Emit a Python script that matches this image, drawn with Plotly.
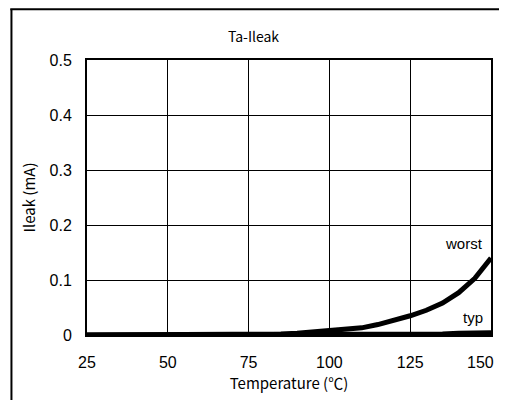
import plotly.graph_objects as go

# temperature samples (deg C)
temp = [25, 30, 35, 40, 45, 50, 55, 60, 65, 70, 75, 80, 85, 90, 95, 100,
        105, 110, 115, 120, 125, 130, 135, 140, 145, 150]
# leakage current (mA)
worst = [0, 0, 0, 0, 0, 0, 0, 0, 0, 0, 0.001, 0.002, 0.002, 0.003, 0.005, 0.007,
         0.009, 0.013, 0.019, 0.026, 0.035, 0.045, 0.058, 0.077, 0.103, 0.14]
typ = [0, 0, 0, 0, 0, 0, 0, 0, 0, 0, 0, 0, 0, 0, 0, 0,
       0, 0, 0, 0, 0.001, 0.002, 0.002, 0.003, 0.003, 0.004]

x_ticks = [25, 50, 75, 100, 125, 150]
x_labels = ['25', '50', '75', '100', '125', '']   # last one drawn separately (at the edge)
y_ticks = [0, 0.1, 0.2, 0.3, 0.4, 0.5]

fig = go.Figure()

fig.add_trace(go.Scatter(x=temp, y=typ, mode='lines',
                         line=dict(color='black', width=5), cliponaxis=False))
fig.add_trace(go.Scatter(x=temp, y=worst, mode='lines',
                         line=dict(color='black', width=5), cliponaxis=False))

fig.add_annotation(x=148, y=worst[-1], text='worst', showarrow=False,
                   xanchor='right', yanchor='bottom', yshift=4,
                   font=dict(family='Liberation Sans', size=15, color='black'))
fig.add_annotation(x=148, y=typ[-1], text='typ', showarrow=False,
                   xanchor='right', yanchor='bottom', yshift=5,
                   font=dict(family='Liberation Sans', size=15, color='black'))
# last x tick label, pushed against the right edge so it stays readable
fig.add_annotation(x=x_ticks[-1], y=0, yref='paper', text='150', showarrow=False,
                   xanchor='right', yanchor='middle', xshift=5, yshift=-27,
                   font=dict(family='Liberation Sans', size=16, color='black'))

# outer chart frame: only left and top edges are visible in the crop
fig.add_shape(type='line', xref='paper', yref='paper',
              x0=-0.187, x1=-0.187, y0=-0.5, y1=1.185,
              line=dict(color='black', width=2), layer='below')
fig.add_shape(type='line', xref='paper', yref='paper',
              x0=-0.19, x1=1.2, y0=1.185, y1=1.185,
              line=dict(color='black', width=2), layer='below')

# page body has an 8px margin; keep the figure inside the window so no scrollbars
fig.update_layout(
    width=491, height=392,
    margin=dict(l=79, r=6, t=52, b=65),
    paper_bgcolor='white', plot_bgcolor='white',
    showlegend=False,
    title=dict(text='Ta-Ileak', x=0.5, xanchor='center', y=0.925, yanchor='middle',
               font=dict(family='Noto Sans CJK JP', size=14, color='black')),
    xaxis=dict(range=[25, 150], tickvals=x_ticks, ticktext=x_labels, ticks='',
               ticklabelstandoff=12,
               showgrid=True, gridcolor='black', gridwidth=1,
               showline=True, linecolor='black', linewidth=2, mirror=True,
               zeroline=False,
               tickfont=dict(family='Liberation Sans', size=16, color='black'),
               title=dict(text='Temperature (℃)', standoff=8,
                          font=dict(family='Noto Sans CJK JP', size=15, color='black'))),
    yaxis=dict(range=[0, 0.5], tickvals=y_ticks, ticktext=['0', '0.1', '0.2', '0.3', '0.4', '0.5'],
               ticks='', ticklabelstandoff=10, showgrid=True, gridcolor='black', gridwidth=1,
               showline=True, linecolor='black', linewidth=2, mirror=True,
               zeroline=False,
               tickfont=dict(family='Liberation Sans', size=16, color='black'),
               title=dict(text='Ileak (mA)', standoff=10,
                          font=dict(family='Noto Sans CJK JP', size=15, color='black'))),
)

fig.write_html("out.html")
